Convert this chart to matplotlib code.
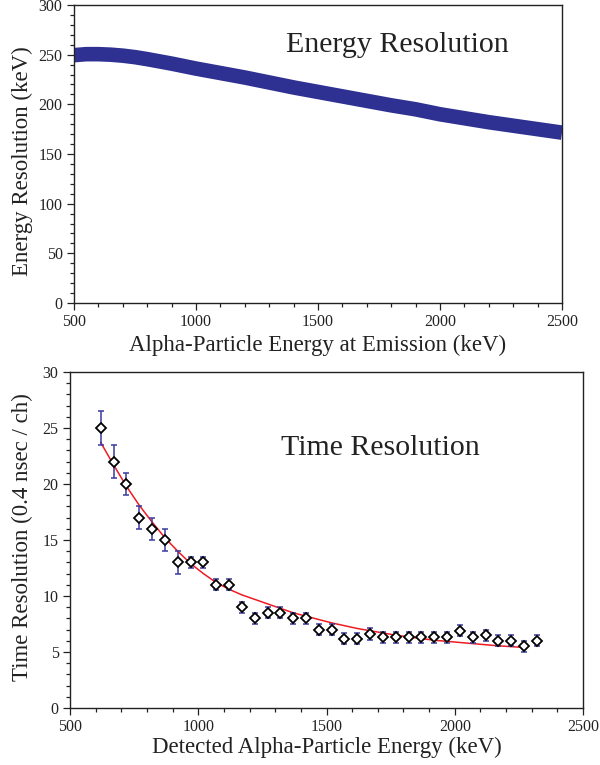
import matplotlib
matplotlib.use("Agg")
import matplotlib.pyplot as plt
from matplotlib.ticker import MultipleLocator

plt.rcParams['font.family'] = ['Liberation Serif', 'DejaVu Serif']

# ---- top panel data: energy resolution vs emission energy ----
emit_energy = [500, 550, 600, 650, 700, 750, 800, 900, 1000, 1100, 1200, 1300,
               1400, 1500, 1600, 1700, 1800, 1900, 2000, 2100, 2200, 2300, 2400, 2500]
energy_res = [249.5, 250.5, 250.5, 250.0, 249.0, 247.5, 245.5, 241.0, 236.0, 231.5,
              227.0, 222.0, 217.0, 212.5, 208.0, 203.5, 199.0, 195.0, 190.0, 186.0,
              182.0, 178.5, 175.0, 171.5]

# ---- bottom panel data: time resolution vs detected energy ----
det_energy = [620, 670, 720, 770, 820, 870, 920, 970, 1020, 1070, 1120, 1170,
              1220, 1270, 1320, 1370, 1420, 1470, 1520, 1570, 1620, 1670, 1720,
              1770, 1820, 1870, 1920, 1970, 2020, 2070, 2120, 2170, 2220, 2270, 2320]
time_res = [25.0, 22.0, 20.0, 17.0, 16.0, 15.0, 13.0, 13.0, 13.0, 11.0, 11.0, 9.0,
            8.0, 8.5, 8.5, 8.0, 8.0, 7.0, 7.0, 6.2, 6.2, 6.6, 6.3,
            6.3, 6.3, 6.3, 6.3, 6.3, 6.9, 6.3, 6.5, 6.0, 6.0, 5.5, 6.0]
time_err = [1.5, 1.5, 1.0, 1.0, 1.0, 1.0, 1.0, 0.5, 0.5, 0.5, 0.5, 0.5,
            0.5, 0.5, 0.5, 0.5, 0.5, 0.5, 0.5, 0.5, 0.5, 0.5, 0.5,
            0.5, 0.5, 0.5, 0.5, 0.5, 0.5, 0.5, 0.5, 0.5, 0.5, 0.5, 0.5]

# fitted curve
fit_energy = [620, 670, 720, 770, 820, 870, 920, 970, 1020, 1070, 1120, 1170,
              1220, 1270, 1320, 1370, 1420, 1470, 1520, 1570, 1620, 1670, 1720,
              1770, 1820, 1870, 1920, 1970, 2020, 2070, 2120, 2170, 2220, 2270]
fit_res = [23.7, 21.7, 19.8, 18.1, 16.6, 15.2, 14.0, 12.9, 12.0, 11.2, 10.6, 10.1,
           9.7, 9.3, 8.9, 8.5, 8.2, 7.9, 7.6, 7.35, 7.1, 6.9, 6.7,
           6.5, 6.35, 6.2, 6.05, 5.95, 5.85, 5.75, 5.65, 5.55, 5.48, 5.4]

TXT = '#222222'
SPINE = '#222222'

fig = plt.figure(figsize=(6.0, 7.65), dpi=100)

def style(ax):
    for s in ax.spines.values():
        s.set_color(SPINE)
        s.set_linewidth(1.0)
    ax.tick_params(which='both', direction='out', top=False, right=False,
                   colors=SPINE, labelcolor=TXT, labelsize=11.5, width=0.9)
    ax.tick_params(which='major', length=5.2, pad=3)
    ax.tick_params(which='minor', length=3)

# top panel
ax1 = fig.add_axes([74/600, 1-303/765, 488/600, 298/765])
ax1.plot(emit_energy, energy_res, color='#2e3192', lw=10.5, solid_capstyle='butt')
ax1.set_xlim(500, 2500)
ax1.set_ylim(0, 300)
ax1.xaxis.set_major_locator(MultipleLocator(500))
ax1.xaxis.set_minor_locator(MultipleLocator(100))
ax1.yaxis.set_major_locator(MultipleLocator(50))
ax1.yaxis.set_minor_locator(MultipleLocator(10))
style(ax1)
ax1.set_xlabel('Alpha-Particle Energy at Emission (keV)', fontsize=16.5, color=TXT, labelpad=3)
ax1.set_ylabel('Energy Resolution (keV)', fontsize=16.5, color=TXT)
ax1.yaxis.set_label_coords(-0.085, 0.475)
ax1.text(0.662, 0.842, 'Energy Resolution', transform=ax1.transAxes,
         fontsize=21.5, color=TXT, ha='center', va='baseline')

# bottom panel
ax2 = fig.add_axes([70/600, 1-708/765, 513/600, 336/765])
ax2.plot(fit_energy, fit_res, color='#ed1c24', lw=1.1, zorder=2)
ax2.errorbar(det_energy, time_res, yerr=time_err, fmt='none', ecolor='#3a3a9e',
             elinewidth=1.1, capsize=2.5, capthick=1.1, zorder=3)
ax2.plot(det_energy, time_res, linestyle='none', marker='D', markersize=4.6,
         markerfacecolor='white', markeredgecolor='black', markeredgewidth=1.3, zorder=4)
ax2.set_xlim(500, 2500)
ax2.set_ylim(0, 30)
ax2.xaxis.set_major_locator(MultipleLocator(500))
ax2.xaxis.set_minor_locator(MultipleLocator(100))
ax2.yaxis.set_major_locator(MultipleLocator(5))
ax2.yaxis.set_minor_locator(MultipleLocator(1))
style(ax2)
ax2.set_xlabel('Detected Alpha-Particle Energy (keV)', fontsize=16.5, color=TXT, labelpad=1)
ax2.set_ylabel('Time Resolution (0.4 nsec / ch)', fontsize=16.5, color=TXT)
ax2.yaxis.set_label_coords(-0.072, 0.509)
ax2.text(0.605, 0.753, 'Time Resolution', transform=ax2.transAxes,
         fontsize=21.5, color=TXT, ha='center', va='baseline')

fig.savefig('out.png', dpi=100)
